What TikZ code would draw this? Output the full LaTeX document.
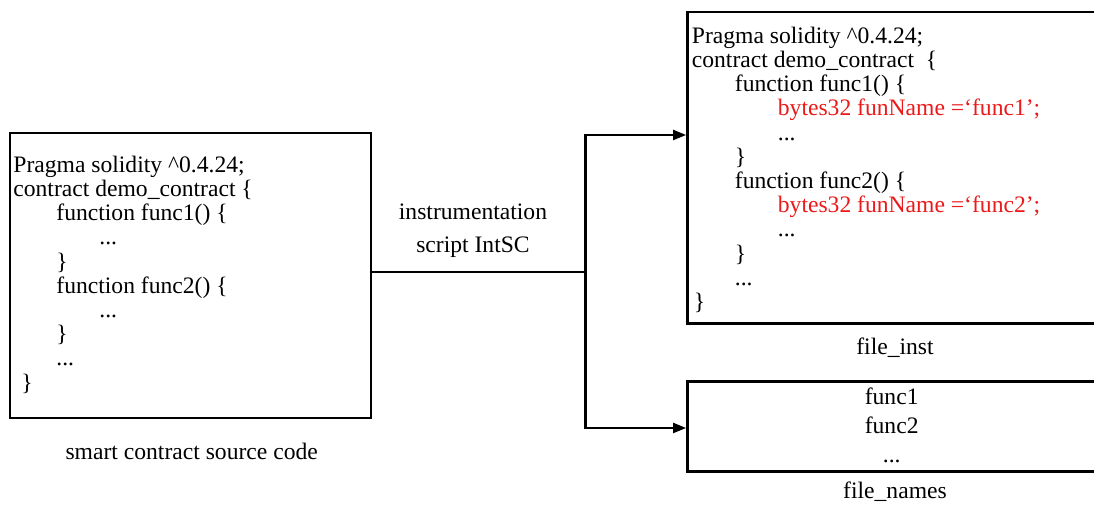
\documentclass[tikz,border=0pt]{standalone}
\usepackage{fontspec}
\setmainfont{Liberation Serif}
\usetikzlibrary{arrows.meta}
\definecolor{codered}{RGB}{235,25,25}
\newcommand{\indA}{\hspace*{21.5pt}}
\newcommand{\indB}{\hspace*{43pt}}
\begin{document}
\begin{tikzpicture}[x=0.5pt,y=-0.5pt,
  box/.style={draw,line width=1.4pt,inner sep=0pt},
  code/.style={anchor=north west,inner sep=0pt,align=left,
    font=\fontsize{11.8}{12.1}\selectfont},
  lbl/.style={anchor=base,inner sep=0pt,font=\fontsize{11.8}{12}\selectfont},
  link/.style={line width=1.1pt},
  arr/.style={link,-{Triangle[length=6.5pt,width=5pt]}}]
\useasboundingbox (0,0) rectangle (1094,506);
\clip (0,0) rectangle (1094,506);

% boxes
\node[box,minimum width=180.5pt,minimum height=142.5pt] (src) at (190.5,275.5) {};
\node[box,minimum width=206.25pt,minimum height=155.75pt] (inst) at (893.75,167.75) {};
\node[box,minimum width=206.25pt,minimum height=45pt] (names) at (893.75,426.5) {};

% source contract
\node[code] (srccode) at (13,155.5) {%
Pragma solidity \textasciicircum0.4.24;\\
contract demo\_contract \{\\
\indA function func1() \{\\
\indB ...\\
\indA\}\\
\indA function func2() \{\\
\indB ...\\
\indA\}\\
\indA ...\\
\hspace*{4pt}\}};

% instrumented contract
\node[code] (instcode) at (691.5,26.5) {%
Pragma solidity \textasciicircum0.4.24;\\
contract demo\_contract \ \{\\
\indA function func1() \{\\
\indB\textcolor{codered}{bytes32 funName =‘func1’;}\\
\indB ...\\
\indA\}\\
\indA function func2() \{\\
\indB\textcolor{codered}{bytes32 funName =‘func2’;}\\
\indB ...\\
\indA\}\\
\indA ...\\
\hspace*{1pt}\}};

% function names
\node[lbl] (n1) at (891.7,405) {func1};
\node[lbl] (n2) at (891.7,434) {func2};
\node[lbl] (n3) at (891.7,463) {...};

% captions
\node[lbl] (srclbl) at (191.7,460) {smart contract source code};
\node[lbl] (instlbl) at (895,355) {file\_inst};
\node[lbl] (nameslbl) at (895,499) {file\_names};
\node[lbl] (toolA) at (473,220) {instrumentation};
\node[lbl] (toolB) at (473,253) {script IntSC};

% connectors
\coordinate (split) at (585.5,272);
\coordinate (instIn) at (inst.west |- 0,135);
\coordinate (namesIn) at (names.west |- 0,428);
\draw[link] (src.east |- split) -- (split);
\draw[arr] (split) |- (instIn);
\draw[arr] (split) |- (namesIn);
\end{tikzpicture}
\end{document}
